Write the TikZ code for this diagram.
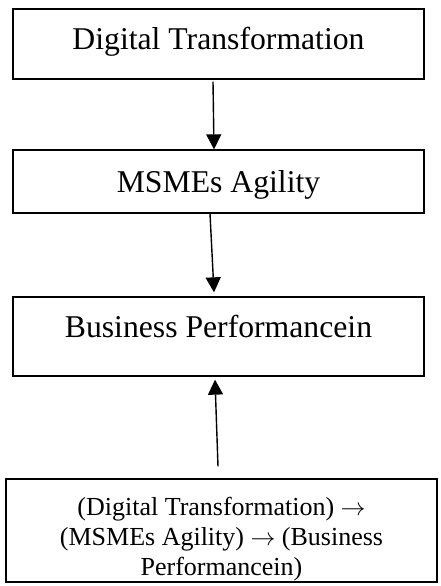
\documentclass[tikz,border=0pt]{standalone}
\usepackage{fontspec}
\setmainfont{Liberation Serif}
\usetikzlibrary{arrows.meta}
\newcommand{\toarrow}{\ensuremath{\rightarrow}}
\begin{document}
\begin{tikzpicture}[x=1pt,y=-1pt,
  stage/.style={draw,line width=1.3pt,inner sep=0pt,minimum width=411pt,
    font=\fontsize{31.7}{38}\selectfont},
  summary/.style={draw,line width=1.3pt,inner sep=0pt,minimum width=431pt,
    align=center,font=\fontsize{26}{30}\selectfont},
  link/.style={line width=1.4pt,-{Triangle[length=15pt,width=15pt]}}]
\useasboundingbox (0,0) rectangle (440,586);
% three stacked stages
\node[stage,text height=41pt,text depth=29pt] (dt) at (218.5,44) {Digital Transformation};
\node[stage,text height=42pt,text depth=21pt] (ag) at (218.5,181.5) {MSMEs Agility};
\node[stage,text height=40pt,text depth=39pt] (bp) at (218.5,336.5) {Business Performancein};
% summary of the chain
\node[summary,text height=96pt,text depth=7pt] (sm) at (221.5,530.5)
  {(Digital Transformation) \toarrow\\(MSMEs Agility) \toarrow{} (Business\\Performancein)};
% connectors
\draw[link] ([xshift=-5.5pt,yshift=-2pt]dt.south) -- ([xshift=-4.5pt]ag.north);
\draw[link] ([xshift=-8.5pt]ag.south) -- ([xshift=-4.5pt,yshift=4pt]bp.north);
\draw[link] ([xshift=-3.5pt,yshift=12pt]sm.north) -- ([xshift=-3.5pt,yshift=-3pt]bp.south);
\end{tikzpicture}
\end{document}
